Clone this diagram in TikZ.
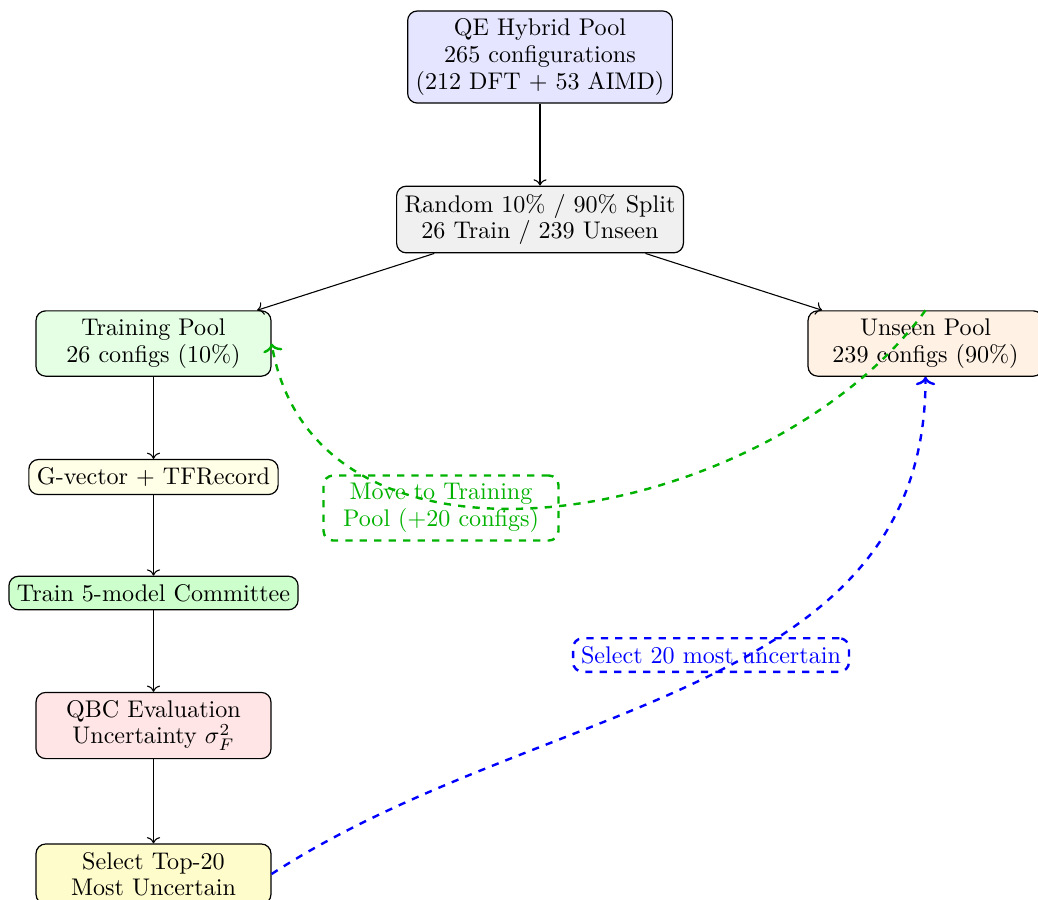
\documentclass[tikz,border=0pt]{standalone}
\usetikzlibrary{arrows,arrows.meta}
\begin{document}
\begin{tikzpicture}[x=0.415pt,y=0.415pt,
  box/.style={draw, rounded corners=4pt, align=center, font=\fontsize{10}{11}\selectfont, inner sep=3.33pt, line width=0.5pt},
  wide/.style={box, minimum width=97.5pt},
  arr/.style={->, line width=0.45pt},
  bigtip/.style={-{To[width=8pt,length=3.5pt]}},
  gline/.style={bigtip, dashed, line width=1pt, draw=green!70!black},
  bline/.style={bigtip, dashed, line width=1pt, draw=blue},
  glabel/.style={box, draw=green!70!black, text=green!70!black, dashed, line width=1pt, minimum width=97.5pt},
  blabel/.style={box, draw=blue, text=blue, dashed, line width=1pt}]
\useasboundingbox (0,0) rectangle (1038,-899);
\clip (0,0) rectangle (1038,-899);
\node[box, fill=blue!10] (qe) at (540,-57) {QE Hybrid Pool\\265 configurations\\(212 DFT + 53 AIMD)};
\node[box, fill=gray!12] (split) at (540,-219.5) {Random 10\% / 90\% Split\\26 Train / 239 Unseen};
\node[wide, fill=green!10] (train) at (153.5,-343.5) {Training Pool\\26 configs (10\%)};
\node[wide, fill=orange!10] (unseen) at (925.5,-343.5) {Unseen Pool\\239 configs (90\%)};
\node[box, fill=yellow!10] (gvec) at (153.5,-477) {G-vector + TFRecord};
\node[box, fill=green!20] (comm) at (153.5,-593) {Train 5-model Committee};
\node[wide, fill=red!10] (qbc) at (153.5,-725.5) {QBC Evaluation\\Uncertainty $\sigma_F^2$};
\node[wide, fill=yellow!20] (sel) at (153.5,-874) {Select Top-20\\Most Uncertain};
\draw[arr] (qe) -- (split);
\draw[arr] (split) -- (train);
\draw[arr] (split) -- (unseen);
\draw[arr] (train) -- (gvec);
\draw[arr] (gvec) -- (comm);
\draw[arr] (comm) -- (qbc);
\draw[arr] (qbc) -- (sel);
\draw[gline] (unseen.north) to[out=-126, in=-80, looseness=1.04] (train.east);
\draw[bline] (sel.east) to[out=33, in=-90] (unseen.south);
\node[glabel] (mv) at (441,-508) {Move to Training\\Pool (+20 configs)};
\node[blabel] (s20) at (711,-655) {Select 20 most uncertain};
\end{tikzpicture}
\end{document}
